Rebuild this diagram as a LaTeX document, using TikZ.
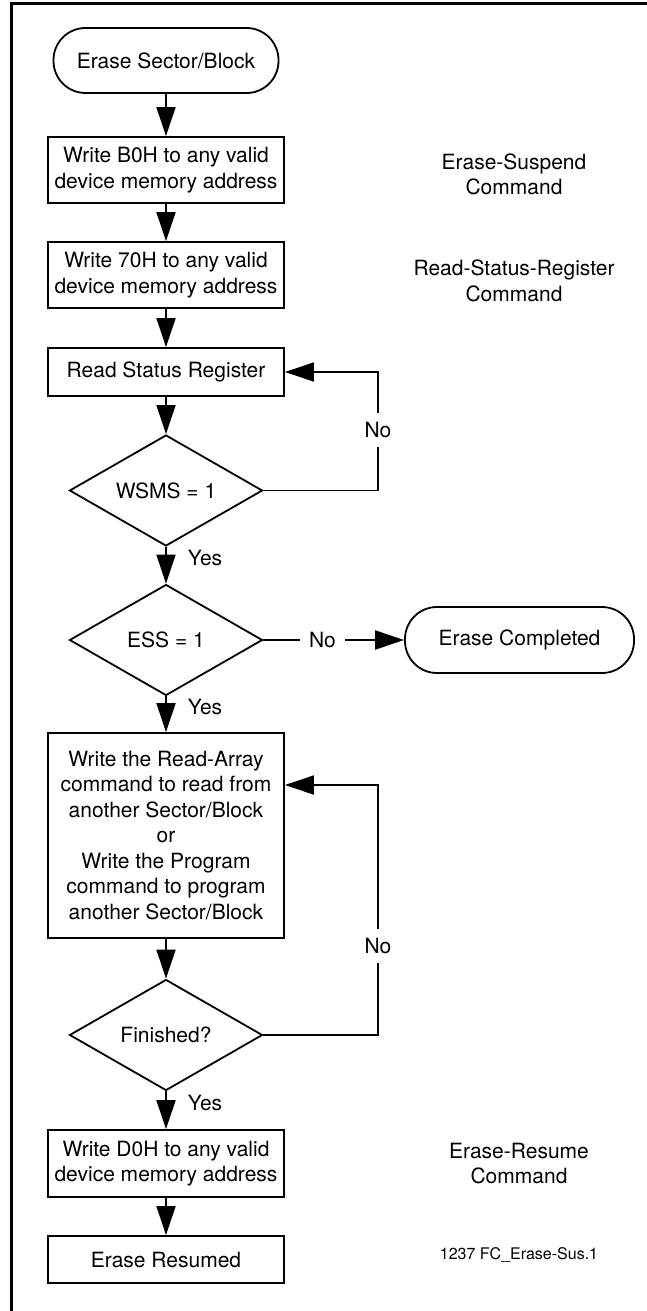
\documentclass[tikz,border=0pt]{standalone}
\usepackage{fontspec}
\setmainfont{TeX Gyre Heros}
\usetikzlibrary{shapes.geometric,arrows.meta}

\tikzset{
  flowbox/.style={draw, line width=1.8pt, rectangle, minimum width=236pt, inner sep=0pt, align=center},
  terminal/.style={draw, line width=1.8pt, rectangle, rounded corners=32pt, minimum height=65pt, inner sep=0pt},
  decision/.style={draw, line width=1.8pt, diamond, aspect=1.74, minimum width=193pt, minimum height=111pt, inner sep=0pt},
  cmdnote/.style={align=center, inner sep=0pt},
  flow/.style={line width=1.8pt, -{Triangle[length=29pt, width=19pt]}},
  yeslabel/.style={anchor=west, pos=0.3, xshift=21pt, inner sep=0pt},
  nolabel/.style={fill=white, inner sep=9pt}
}

\begin{document}
\begin{tikzpicture}[x=1pt, y=-1pt, font=\fontsize{21}{25.5}\selectfont]
\useasboundingbox (0,0) rectangle (647,1311);
% frame
\draw[line width=3pt] (11,1311) -- (11,4) -- (647,4);

% main column
\node[terminal, minimum width=225pt] (start) at (166,60.5) {Erase Sector/Block};
\node[flowbox, minimum height=66pt] (wrB0) at (166,170) {Write B0H to any valid\\device memory address};
\node[flowbox, minimum height=66pt] (wr70) at (166,275) {Write 70H to any valid\\device memory address};
\node[flowbox, minimum height=48pt] (rdsr) at (166,372) {Read Status Register};
\node[decision] (wsms) at (166,490.5) {WSMS = 1};
\node[decision] (ess) at (166,640) {ESS = 1};
\node[terminal, minimum width=229pt, minimum height=66pt] (done) at (519.5,640) {Erase Completed};
\node[flowbox, minimum height=205pt] (other) at (166,835.5) {Write the Read-Array\\command to read from\\another Sector/Block\\or\\Write the Program\\command to program\\another Sector/Block};
\node[decision] (fin) at (166,1035) {Finished?};
\node[flowbox, minimum height=67pt] (wrD0) at (166,1163.5) {Write D0H to any valid\\device memory address};
\node[flowbox, minimum height=47pt] (resumed) at (166,1259.5) {Erase Resumed};

% side notes
\node[cmdnote] (cmdSusp) at (514,174.5) {Erase-Suspend\\Command};
\node[cmdnote] (cmdRsr) at (514,281) {Read-Status-Register\\Command};
\node[cmdnote] (cmdRes) at (519,1163.5) {Erase-Resume\\Command};
\node[font=\fontsize{16}{19}\selectfont, inner sep=0pt] (figId) at (519,1255) {1237 FC\_Erase-Sus.1};

% arrows
\draw[flow] (start) -- (wrB0);
\draw[flow] (wrB0) -- (wr70);
\draw[flow] (wr70) -- (rdsr);
\draw[flow] (rdsr) -- (wsms);
\draw[flow] (wsms) -- node[yeslabel] (yesA) {Yes} (ess);
\draw[flow] (ess) -- node[nolabel, pos=0.42] (noB) {No} (done);
\draw[flow] (ess) -- node[yeslabel] (yesB) {Yes} (other);
\draw[flow] (other) -- (fin);
\draw[flow] (fin) -- node[yeslabel] (yesC) {Yes} (wrD0);
\draw[flow] (wrD0) -- (resumed);

% loops back
\coordinate (loopA) at (378,372);
\draw[flow] (wsms.east) -| (loopA) -- (rdsr.east);
\node[nolabel] (noA) at (378,430) {No};
\coordinate (loopC) at (378,785);
\draw[flow] (fin.east) -| (loopC) -- (other.east |- loopC);
\node[nolabel] (noC) at (378,946) {No};
\end{tikzpicture}
\end{document}
